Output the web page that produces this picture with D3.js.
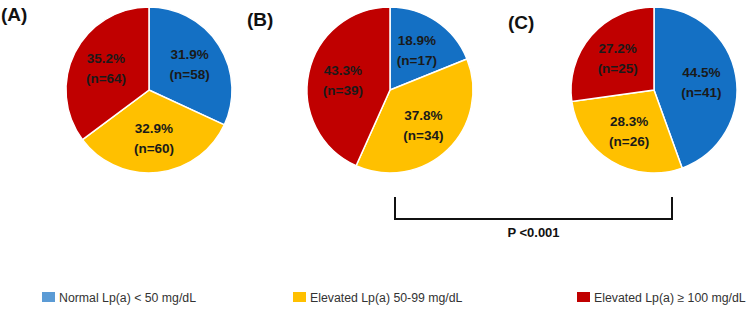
<!DOCTYPE html>
<html>
<head>
<meta charset="utf-8">
<script src="https://cdn.jsdelivr.net/npm/d3@7"></script>
<style>
  body { margin: 0; background: #fff; }
  svg { display: block; font-family: "Liberation Sans", Arial, sans-serif; }
</style>
</head>
<body>
<div id="chart"></div>
<script>
// categories and per-panel data
const categories = ["Normal Lp(a) < 50 mg/dL", "Elevated Lp(a) 50-99 mg/dL", "Elevated Lp(a) \u2265 100 mg/dL"];
const panels = ["(A)", "(B)", "(C)"];
const countsA = [58, 60, 64];
const countsB = [17, 34, 39];
const countsC = [41, 26, 25];
const pctA = [31.9, 32.9, 35.2];
const pctB = [18.9, 37.8, 43.3];
const pctC = [44.5, 28.3, 27.2];
const pValue = "P <0.001";

const width = 749, height = 314;
const sliceColors = ["#1470c4", "#ffc000", "#c00000"];
const legendColors = ["#5b9bd5", "#ffc000", "#c00000"];

// layout
const centersX = [149, 390, 654];
const centerY = 90;
const radius = 83;
const titlePos = [[1, 21], [247, 26], [508, 29]];
const legendX = [42, 293, 577];

const svg = d3.select("#chart").append("svg")
  .attr("width", width)
  .attr("height", height);

const pie = d3.pie().sort(null).value(d => d.pct);
const arc = d3.arc().innerRadius(0).outerRadius(radius);
const labelArc = d3.arc().innerRadius(radius * 0.58).outerRadius(radius * 0.58);

const allCounts = [countsA, countsB, countsC];
const allPct = [pctA, pctB, pctC];

panels.forEach((p, i) => {
  const data = categories.map((c, j) => ({ cat: c, idx: j, pct: allPct[i][j], n: allCounts[i][j] }));

  const g = svg.append("g")
    .attr("transform", `translate(${centersX[i]},${centerY})`);

  g.selectAll("path")
    .data(pie(data))
    .join("path")
    .attr("d", arc)
    .attr("fill", d => sliceColors[d.data.idx])
    .attr("stroke", "#fff")
    .attr("stroke-width", 1.5);

  const lbl = g.selectAll("text.lbl")
    .data(pie(data))
    .join("text")
    .attr("class", "lbl")
    .attr("transform", d => `translate(${labelArc.centroid(d)})`)
    .attr("text-anchor", "middle")
    .style("font-size", "13.5px")
    .style("font-weight", "bold")
    .attr("fill", "#1a1a1a");

  lbl.append("tspan")
    .attr("x", 0)
    .attr("y", -5)
    .text(d => d.data.pct.toFixed(1) + "%");
  lbl.append("tspan")
    .attr("x", 0)
    .attr("y", 15)
    .text(d => `(n=${d.data.n})`);

  // panel title
  svg.append("text")
    .attr("x", titlePos[i][0])
    .attr("y", titlePos[i][1])
    .style("font-size", "19px")
    .style("font-weight", "bold")
    .attr("fill", "#111")
    .text(p);
});

// significance bracket between B and C
const bx1 = centersX[1] + 5, bx2 = centersX[2] + 18;
const byTop = 197, byBot = 219;
svg.append("path")
  .attr("d", `M${bx1},${byTop}V${byBot}H${bx2}V${byTop}`)
  .attr("fill", "none")
  .attr("stroke", "#111")
  .attr("stroke-width", 2);

svg.append("text")
  .attr("x", (bx1 + bx2) / 2)
  .attr("y", 237)
  .attr("text-anchor", "middle")
  .style("font-size", "13px")
  .style("font-weight", "bold")
  .attr("fill", "#111")
  .text(pValue);

// legend
const legend = svg.selectAll("g.legend")
  .data(categories)
  .join("g")
  .attr("class", "legend")
  .attr("transform", (d, i) => `translate(${legendX[i]},292)`);

legend.append("rect")
  .attr("width", 13)
  .attr("height", 10)
  .attr("fill", (d, i) => legendColors[i]);

legend.append("text")
  .attr("x", 17)
  .attr("y", 9.5)
  .style("font-size", "12.3px")
  .attr("fill", "#333")
  .text(d => d);
</script>
</body>
</html>
